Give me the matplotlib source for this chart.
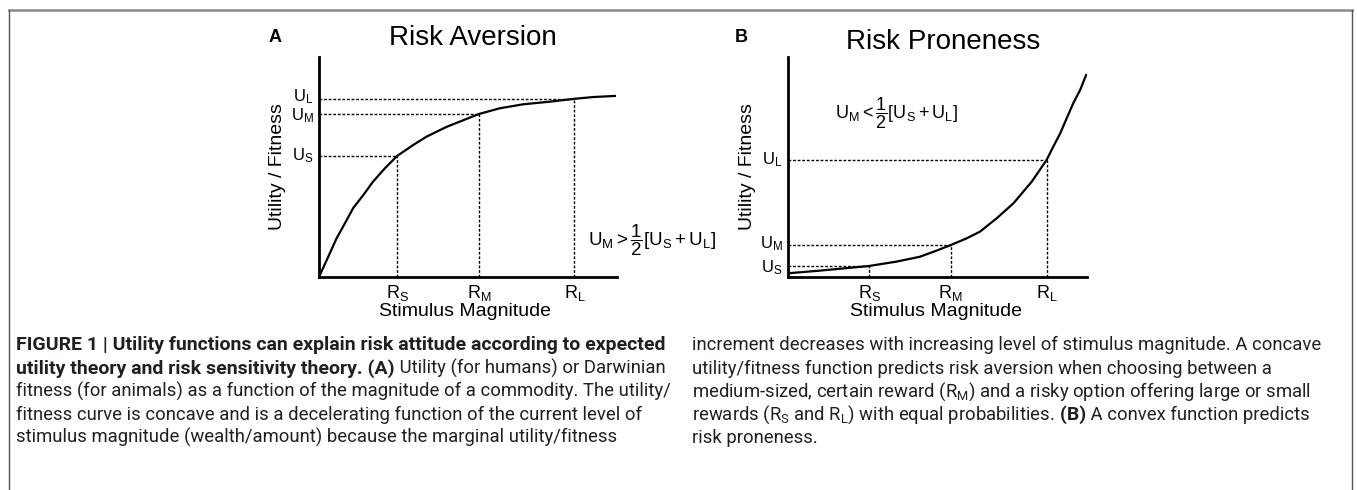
import matplotlib
matplotlib.use("Agg")
import matplotlib.pyplot as plt
from matplotlib.lines import Line2D

plt.rcParams['font.family'] = ['Liberation Sans', 'DejaVu Sans']
plt.rcParams['mathtext.fontset'] = 'custom'
plt.rcParams['mathtext.rm'] = 'Liberation Sans'
plt.rcParams['mathtext.it'] = 'Liberation Sans:italic'
plt.rcParams['mathtext.bf'] = 'Liberation Sans:bold'

# ---- data (axes 0..10 both ways) ----
# panel A: concave utility curve
aversion_x = [0, 0.31, 0.59, 0.87, 1.15, 1.49, 1.81, 2.21, 2.62, 3.16, 3.61,
              4.29, 5.37, 6.07, 6.85, 7.75, 8.57, 9.2, 9.93]
aversion_y = [0, 0.92, 1.76, 2.44, 3.14, 3.73, 4.33, 4.94, 5.5, 6.0, 6.38,
              6.83, 7.41, 7.67, 7.85, 7.97, 8.1, 8.18, 8.23]
aversion_r = [2.62, 5.37, 8.57]          # R_S, R_M, R_L
aversion_u = [5.5, 7.41, 8.1]            # U_S, U_M, U_L

# panel B: convex utility curve
proneness_x = [0, 1.07, 2.71, 3.63, 4.41, 4.97, 5.44, 5.98, 6.42, 6.98, 7.54,
               7.82, 8.15, 8.65, 8.87, 9.1, 9.32, 9.54, 9.77, 9.97]
proneness_y = [0.17, 0.29, 0.5, 0.7, 0.92, 1.2, 1.45, 1.76, 2.06, 2.67, 3.35,
               3.8, 4.33, 5.32, 5.92, 6.52, 7.21, 7.9, 8.5, 9.18]
proneness_r = [2.71, 5.44, 8.65]
proneness_u = [0.5, 1.45, 5.32]

r_labels = [r'$\mathrm{R_S}$', r'$\mathrm{R_M}$', r'$\mathrm{R_L}$']
u_labels = [r'$\mathrm{U_S}$', r'$\mathrm{U_M}$', r'$\mathrm{U_L}$']

W, H = 1357, 490
fig = plt.figure(figsize=(W / 100, H / 100), dpi=100)


def fx(x):
    return x / W


def fy(y):
    return 1 - y / H


def panel(left_px, width_px, xs, ys, rs, us, nudges):
    ax = fig.add_axes([fx(left_px), fy(277), width_px / W, 220 / H])
    ax.plot(xs, ys, color='black', lw=1.6)
    for r, u in zip(rs, us):
        ax.plot([0, r], [u, u], color='black', lw=1, ls=(0, (2, 1.3)))
        ax.plot([r, r], [0, u], color='black', lw=1, ls=(0, (2, 1.3)))
    ax.set_xlim(0, 10)
    ax.set_ylim(0, 10)
    for s in ['top', 'right']:
        ax.spines[s].set_visible(False)
    for s in ['left', 'bottom']:
        ax.spines[s].set_linewidth(2)
    ax.set_xticks(rs, r_labels, fontsize=13)
    ax.set_yticks([])
    ax.tick_params(length=0, pad=4)
    # U labels on the y axis, nudged apart where they crowd
    for u, lab, dy in zip(us, u_labels, nudges):
        ax.annotate(lab, xy=(0, u), xycoords=('axes fraction', 'data'),
                    xytext=(-4, dy), textcoords='offset points',
                    ha='right', va='center', fontsize=12)
    return ax


axA = panel(319, 298, aversion_x, aversion_y, aversion_r, aversion_u, [0, -1.5, 1.5])
axB = panel(788, 299, proneness_x, proneness_y, proneness_r, proneness_u, [-1, 1, 0])

fig.text(fx(278), fy(167), 'Utility / Fitness', fontsize=14, rotation=90, ha='center', va='center')
fig.text(fx(748), fy(167), 'Utility / Fitness', fontsize=14, rotation=90, ha='center', va='center')
fig.text(fx(465), fy(311), 'Stimulus Magnitude', fontsize=14, ha='center', va='center')
fig.text(fx(936), fy(311), 'Stimulus Magnitude', fontsize=14, ha='center', va='center')

fig.text(fx(473), fy(38), 'Risk Aversion', fontsize=20, ha='center', va='center')
fig.text(fx(943), fy(42), 'Risk Proneness', fontsize=20, ha='center', va='center')
fig.text(fx(275), fy(38), 'A', fontsize=13, fontweight='bold', ha='center', va='center')
fig.text(fx(741), fy(38), 'B', fontsize=13, fontweight='bold', ha='center', va='center')

fig.text(fx(588), fy(240),
         r'$\mathrm{U_M} > \dfrac{1}{2}[\mathrm{U_S} + \mathrm{U_L}]$',
         fontsize=13.5, ha='left', va='center')
fig.text(fx(835), fy(113),
         r'$\mathrm{U_M} < \dfrac{1}{2}[\mathrm{U_S} + \mathrm{U_L}]$',
         fontsize=13, ha='left', va='center')

# ---- frame lines ----
fig.add_artist(Line2D([fx(9), fx(1352)], [fy(10), fy(10)], color='#8a8a8a', lw=1.8))
fig.add_artist(Line2D([fx(9), fx(9)], [fy(10), 0], color='#555555', lw=1))
fig.add_artist(Line2D([fx(1352), fx(1352)], [fy(10), 0], color='#555555', lw=1))

# ---- caption ----
cap_font = ['Roboto', 'DejaVu Sans']
cap_color = '#231f20'
renderer = fig.canvas.get_renderer()


def caption_line(x, y, parts):
    cur = x
    for txt, bold in parts:
        t = fig.text(fx(cur), fy(y + 5), txt, family=cap_font, color=cap_color,
                     fontsize=14.0 if bold else 13.3,
                     fontweight='bold' if bold else 'normal',
                     va='baseline', ha='left')
        bb = t.get_window_extent(renderer)
        cur = bb.x1


left_lines = [
    [('FIGURE 1 | Utility functions can explain risk attitude according to expected', True)],
    [('utility theory and risk sensitivity theory. (A)', True),
     (' Utility (for humans) or Darwinian', False)],
    [('fitness (for animals) as a function of the magnitude of a commodity. The utility/', False)],
    [('fitness curve is concave and is a decelerating function of the current level of', False)],
    [('stimulus magnitude (wealth/amount) because the marginal utility/fitness', False)],
]
right_lines = [
    [('increment decreases with increasing level of stimulus magnitude. A concave', False)],
    [('utility/fitness function predicts risk aversion when choosing between a', False)],
    [(r'medium-sized, certain reward (R$_\mathregular{M}$) and a risky option offering large or small', False)],
    [(r'rewards (R$_\mathregular{S}$ and R$_\mathregular{L}$) with equal probabilities.', False),
     (' (B)', True), (' A convex function predicts', False)],
    [('risk proneness.', False)],
]
line_y = [345, 369, 392, 415, 438]
for y, parts in zip(line_y, left_lines):
    caption_line(16, y, parts)
for y, parts in zip(line_y, right_lines):
    caption_line(692, y, parts)

fig.savefig('out.png', dpi=100)
